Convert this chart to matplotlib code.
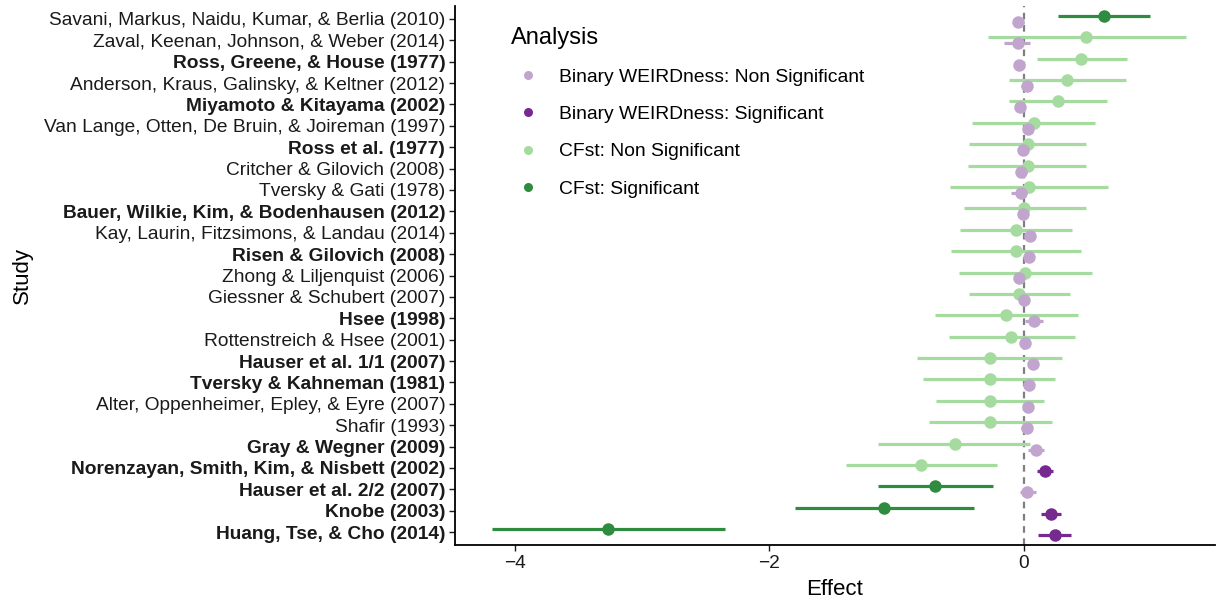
import matplotlib
matplotlib.use("Agg")
import matplotlib.pyplot as plt
from matplotlib.lines import Line2D
import numpy as np

plt.rcParams['font.family'] = ['Liberation Sans', 'DejaVu Sans']

# ---- data (top to bottom) ----
studies = [
    "Savani, Markus, Naidu, Kumar, & Berlia (2010)",
    "Zaval, Keenan, Johnson, & Weber (2014)",
    "Ross, Greene, & House (1977)",
    "Anderson, Kraus, Galinsky, & Keltner (2012)",
    "Miyamoto & Kitayama (2002)",
    "Van Lange, Otten, De Bruin, & Joireman (1997)",
    "Ross et al. (1977)",
    "Critcher & Gilovich (2008)",
    "Tversky & Gati (1978)",
    "Bauer, Wilkie, Kim, & Bodenhausen (2012)",
    "Kay, Laurin, Fitzsimons, & Landau (2014)",
    "Risen & Gilovich (2008)",
    "Zhong & Liljenquist (2006)",
    "Giessner & Schubert (2007)",
    "Hsee (1998)",
    "Rottenstreich & Hsee (2001)",
    "Hauser et al. 1/1 (2007)",
    "Tversky & Kahneman (1981)",
    "Alter, Oppenheimer, Epley, & Eyre (2007)",
    "Shafir (1993)",
    "Gray & Wegner (2009)",
    "Norenzayan, Smith, Kim, & Nisbett (2002)",
    "Hauser et al. 2/2 (2007)",
    "Knobe (2003)",
    "Huang, Tse, & Cho (2014)",
]
bold_label = [0, 0, 1, 0, 1, 0, 1, 0, 0, 1, 0, 1, 0, 0, 1, 0, 1, 1, 0, 0, 1, 1, 1, 1, 1]

cfst_est = [0.63, 0.49, 0.45, 0.34, 0.27, 0.08, 0.03, 0.03, 0.04, 0.00, -0.06, -0.06, 0.01,
            -0.04, -0.14, -0.10, -0.27, -0.27, -0.27, -0.27, -0.54, -0.81, -0.70, -1.10, -3.27]
cfst_lo = [0.27, -0.28, 0.10, -0.12, -0.12, -0.41, -0.43, -0.44, -0.58, -0.47, -0.50, -0.57, -0.51,
           -0.43, -0.70, -0.59, -0.84, -0.79, -0.69, -0.75, -1.15, -1.40, -1.15, -1.80, -4.18]
cfst_hi = [0.99, 1.27, 0.81, 0.80, 0.65, 0.56, 0.49, 0.49, 0.66, 0.49, 0.38, 0.45, 0.53,
           0.36, 0.42, 0.40, 0.30, 0.24, 0.16, 0.22, 0.05, -0.21, -0.24, -0.39, -2.35]
cfst_sig = [1, 0, 0, 0, 0, 0, 0, 0, 0, 0, 0, 0, 0, 0, 0, 0, 0, 0, 0, 0, 0, 0, 1, 1, 1]

weird_est = [-0.05, -0.05, -0.04, 0.02, -0.03, 0.03, -0.01, -0.02, -0.02, -0.01, 0.05, 0.04, -0.04,
             0.00, 0.08, 0.01, 0.07, 0.04, 0.03, 0.02, 0.09, 0.165, 0.02, 0.21, 0.24]
weird_lo = [-0.08, -0.16, -0.07, -0.02, -0.05, -0.01, -0.05, -0.05, -0.10, -0.04, 0.02, 0.01, -0.07,
            -0.03, 0.01, -0.02, 0.03, 0.00, 0.00, -0.02, 0.03, 0.10, -0.03, 0.13, 0.11]
weird_hi = [0.00, 0.05, -0.01, 0.06, 0.00, 0.05, 0.03, 0.02, 0.02, 0.02, 0.08, 0.07, -0.01,
            0.03, 0.15, 0.04, 0.10, 0.08, 0.06, 0.06, 0.16, 0.23, 0.09, 0.29, 0.37]
weird_sig = [0, 0, 0, 0, 0, 0, 0, 0, 0, 0, 0, 0, 0, 0, 0, 0, 0, 0, 0, 0, 0, 1, 0, 1, 1]

legend_labels = ["Binary WEIRDness: Non Significant", "Binary WEIRDness: Significant",
                 "CFst: Non Significant", "CFst: Significant"]

# ---- style ----
c_pur_ns, c_pur_s = '#c2a5cf', '#762a90'
c_grn_ns, c_grn_s = '#a6dba0', '#2e8b3f'

fig = plt.figure(figsize=(12.17, 6.01), dpi=100)
ax = fig.add_axes([455/1217, 56/601, 1 - 455/1217 - 2/1217, 1 - 56/601 - 6/601])

n = len(studies)
ypos = np.arange(n, 0, -1).astype(float)
dodge = 0.14

ax.axvline(0, color='#7f7f7f', lw=1.6, ls=(0, (3, 2.5)), zorder=1)

for i in range(n):
    col = c_grn_s if cfst_sig[i] else c_grn_ns
    y = ypos[i] + dodge
    ax.plot([cfst_lo[i], cfst_hi[i]], [y, y], color=col, lw=2.3, solid_capstyle='butt', zorder=2)
    ax.plot(cfst_est[i], y, 'o', color=col, ms=9, mec='none', zorder=3)
for i in range(n):
    col = c_pur_s if weird_sig[i] else c_pur_ns
    y = ypos[i] - dodge
    ax.plot([weird_lo[i], weird_hi[i]], [y, y], color=col, lw=2.3, solid_capstyle='butt', zorder=4)
    ax.plot(weird_est[i], y, 'o', color=col, ms=9, mec='none', zorder=5)

ax.set_xlim(-4.47, 1.5)
ax.set_ylim(0.4, n + 0.6)
ax.set_xticks([-4, -2, 0])
ax.set_xticklabels(['\u22124', '\u22122', '0'])
ax.set_yticks(ypos)
ax.set_yticklabels(studies)
for lbl, b in zip(ax.get_yticklabels(), bold_label):
    if b:
        lbl.set_fontweight('bold')

ax.tick_params(axis='both', labelsize=13.8, colors='#1a1a1a', length=4, width=1.0, pad=3)
for s in ['top', 'right']:
    ax.spines[s].set_visible(False)
for s in ['left', 'bottom']:
    ax.spines[s].set_linewidth(1.3)
    ax.spines[s].set_color('black')

ax.set_xlabel('Effect', fontsize=16, labelpad=5)
ax.set_ylabel('Study', fontsize=16, labelpad=8)

handles = [Line2D([], [], ls='none', marker='o', ms=6.5, mec='none', color=c)
           for c in [c_pur_ns, c_pur_s, c_grn_ns, c_grn_s]]
leg = fig.legend(handles, legend_labels, title='Analysis', loc='upper left',
                 bbox_to_anchor=(503/1217, 1 - 19/601), frameon=False, fontsize=13.9,
                 title_fontsize=17, labelspacing=1.02, handletextpad=0.73, handlelength=1.76,
                 borderaxespad=0)
leg._legend_box.align = 'left'

fig.savefig('out.png', dpi=100)
